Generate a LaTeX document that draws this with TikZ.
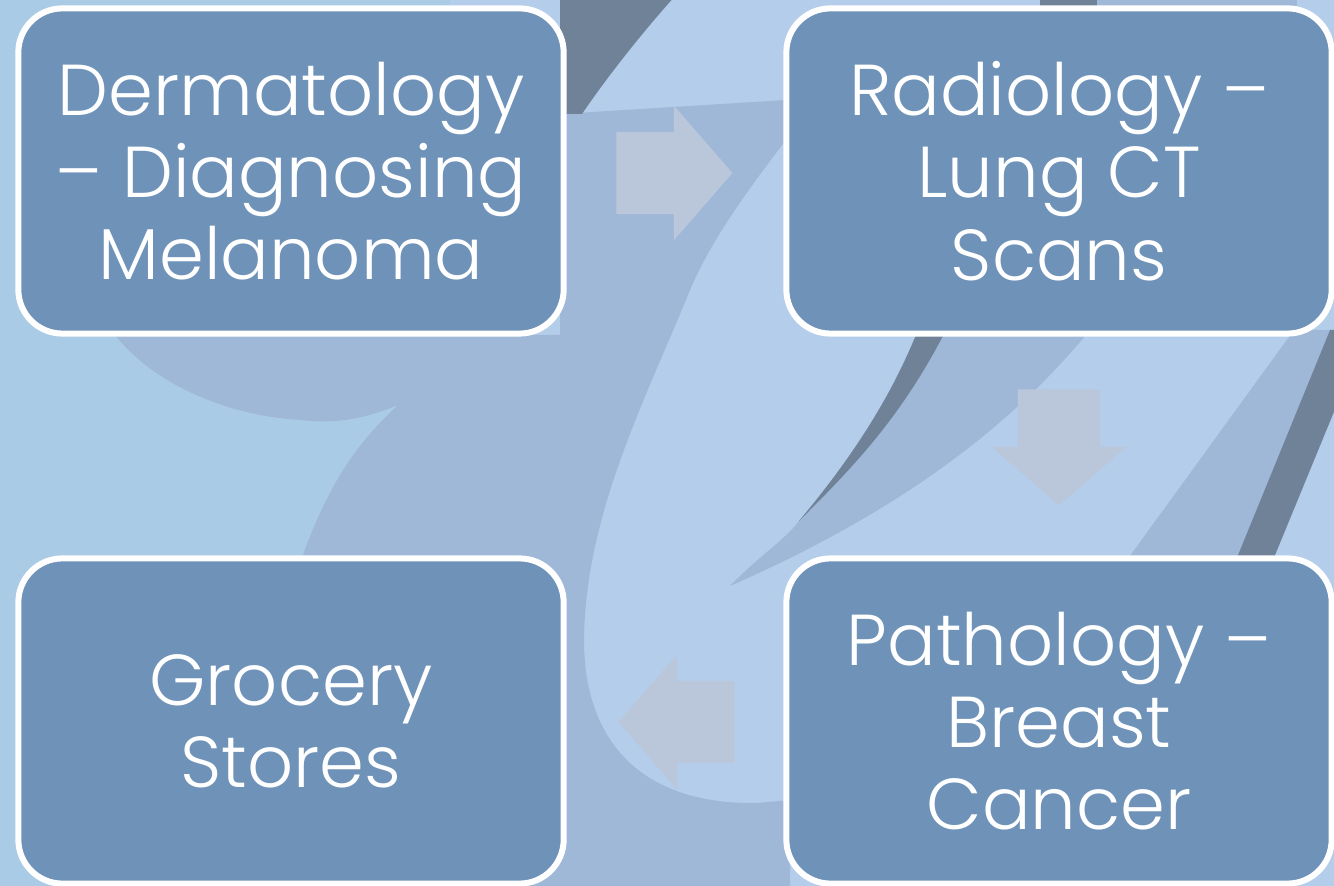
\documentclass[tikz,border=0pt]{standalone}
\usepackage{fontspec}
\setmainfont{Poppins}[UprightFont=* Light]
\usetikzlibrary{shapes.arrows,calc}
\definecolor{boxblue}{RGB}{111,146,184}
\definecolor{bglight}{RGB}{180,205,234}
\definecolor{bgcyan}{RGB}{170,203,229}
\definecolor{bgmid}{RGB}{159,184,215}
\definecolor{bgdark}{RGB}{112,130,152}
\definecolor{arrowgray}{RGB}{186,199,218}
\begin{document}
\begin{tikzpicture}[x=0.01cm, y=-0.01cm,
    field/.style={draw=white, line width=0.06cm, fill=boxblue, rounded corners=0.44cm,
        minimum width=5.45cm, minimum height=3.25cm, align=center, text=white,
        font=\fontsize{20.5}{23.4}\selectfont},
    flow/.style={single arrow, fill=arrowgray, draw=none, inner xsep=0pt, inner ysep=0.405cm,
        minimum height=1.16cm, single arrow head extend=0.26cm, single arrow tip angle=98,
        anchor=tail}
]
\useasboundingbox (0,0) rectangle (1334,886);

% Background swooshes
\begin{scope}
\clip (0,0) rectangle (1334,886);
\fill[bglight] (0,0) rectangle (1334,886);
\fill[bgcyan] (0,0) rectangle (450,886);
\fill[bgmid] (560,114) -- (786,100) -- (786,140)
    .. controls (740,200) and (705,250) .. (686,300)
    .. controls (640,410) and (585,520) .. (584,640)
    .. controls (584,740) and (640,805) .. (757,803)
    -- (790,800) -- (790,890) -- (300,890) -- (303,555)
    .. controls (330,480) and (360,440) .. (398,405)
    .. controls (350,425) and (320,422) .. (300,420)
    .. controls (220,415) and (150,380) .. (115,335) -- (560,335) -- cycle;
\fill[bgdark] (560,-5) -- (676,-5) .. controls (640,35) and (605,80) .. (582,114) -- (560,114) -- cycle;
\fill[bgdark] (1040,-5) rectangle (1097,20);
\fill[bgmid] (1097,-5) rectangle (1297,20);
\fill[bgmid] (918,330) -- (1090,330)
    .. controls (1000,440) and (880,520) .. (730,586)
    .. controls (760,555) and (785,540) .. (799,521)
    .. controls (850,460) and (890,400) .. (918,330) -- cycle;
\fill[bgdark] (918,330) -- (946,330)
    .. controls (900,420) and (850,470) .. (799,521)
    .. controls (850,460) and (890,400) .. (918,330) -- cycle;
\fill[bgmid] (1294,330) -- (1330,330) -- (1236,560) -- (1127,560) -- cycle;
\fill[bgdark] (1330,330) -- (1345,330) -- (1345,385) -- (1273,560) -- (1236,560) -- cycle;
\end{scope}

% Boxes
\node[field] (derm) at (291,171) {Dermatology\\– Diagnosing\\Melanoma};
\node[field] (radio) at (1059,171) {Radiology –\\Lung CT\\Scans};
\node[field] (patho) at (1059,721) {Pathology –\\Breast\\Cancer};
\node[field] (grocery) at (291,721) {Grocery\\Stores};

% Arrows
\node[flow] (toRadio) at ($(derm.east)+(49,2)$) {};
\node[flow, rotate=-90] (toPatho) at ($(radio.south)+(0,52)$) {};
\node[flow, rotate=180] (toGrocery) at ($(patho.west)+(-48,1)$) {};
\end{tikzpicture}
\end{document}
